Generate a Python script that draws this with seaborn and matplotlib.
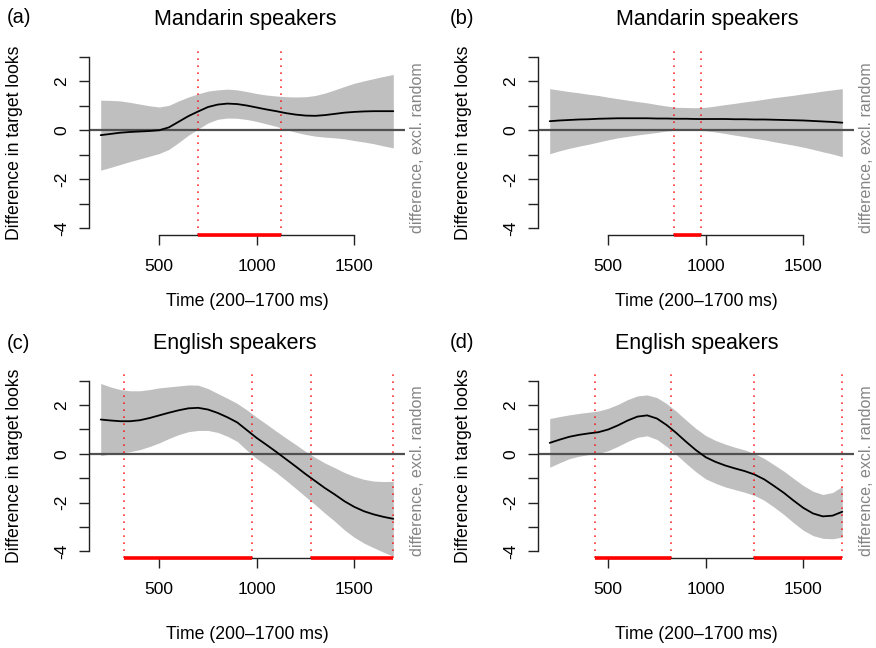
import numpy as np
import pandas as pd
import matplotlib
matplotlib.use("Agg")
import matplotlib.pyplot as plt
import seaborn as sns

# ---------------- data ----------------
time_ms = [200, 250, 300, 350, 400, 450, 500, 550, 600, 650, 700, 750, 800, 850, 900, 950,
           1000, 1050, 1100, 1150, 1200, 1250, 1300, 1350, 1400, 1450, 1500, 1550, 1600, 1650, 1700]

fit_a = [-0.20, -0.15, -0.10, -0.07, -0.05, -0.03, 0.00, 0.12, 0.35, 0.58, 0.77, 0.95, 1.05, 1.09, 1.07, 1.01,
         0.93, 0.85, 0.78, 0.70, 0.64, 0.60, 0.59, 0.62, 0.67, 0.72, 0.75, 0.77, 0.78, 0.78, 0.78]
ci_a = [1.43, 1.37, 1.30, 1.21, 1.12, 1.03, 0.95, 0.90, 0.85, 0.78, 0.72, 0.65, 0.60, 0.59, 0.58, 0.57,
        0.57, 0.59, 0.62, 0.67, 0.72, 0.77, 0.83, 0.90, 0.98, 1.07, 1.17, 1.25, 1.33, 1.42, 1.50]

fit_b = [0.37, 0.40, 0.42, 0.44, 0.45, 0.47, 0.48, 0.49, 0.49, 0.49, 0.49, 0.48, 0.48, 0.47, 0.47, 0.46,
         0.46, 0.46, 0.46, 0.45, 0.45, 0.44, 0.44, 0.43, 0.42, 0.41, 0.40, 0.38, 0.36, 0.34, 0.31]
ci_b = [1.33, 1.24, 1.16, 1.09, 1.02, 0.95, 0.87, 0.80, 0.74, 0.68, 0.63, 0.57, 0.51, 0.47, 0.46, 0.46,
        0.48, 0.53, 0.59, 0.65, 0.71, 0.77, 0.83, 0.90, 0.96, 1.02, 1.09, 1.16, 1.24, 1.31, 1.39]

fit_c = [1.41, 1.37, 1.34, 1.34, 1.38, 1.47, 1.58, 1.69, 1.79, 1.87, 1.89, 1.82, 1.68, 1.50, 1.29, 0.97,
         0.65, 0.37, 0.08, -0.22, -0.52, -0.83, -1.12, -1.41, -1.67, -1.95, -2.18, -2.36, -2.49, -2.59, -2.67]
ci_c = [1.48, 1.38, 1.30, 1.25, 1.21, 1.17, 1.13, 1.06, 1.00, 0.96, 0.93, 0.86, 0.80, 0.78, 0.78, 0.83,
        0.85, 0.85, 0.85, 0.87, 0.90, 0.93, 0.97, 1.03, 1.10, 1.18, 1.25, 1.31, 1.37, 1.45, 1.54]

fit_d = [0.45, 0.58, 0.70, 0.78, 0.84, 0.89, 1.00, 1.17, 1.37, 1.53, 1.58, 1.45, 1.18, 0.85, 0.49, 0.15,
         -0.14, -0.33, -0.48, -0.60, -0.71, -0.85, -1.05, -1.32, -1.60, -1.92, -2.22, -2.45, -2.57, -2.54, -2.38]
ci_d = [1.00, 0.95, 0.90, 0.88, 0.87, 0.87, 0.87, 0.86, 0.86, 0.85, 0.84, 0.86, 0.88, 0.89, 0.89, 0.89,
        0.89, 0.88, 0.88, 0.87, 0.87, 0.86, 0.86, 0.87, 0.89, 0.91, 0.92, 0.91, 0.90, 0.95, 1.04]

sig_a = [(700, 1125)]
sig_b = [(838, 974)]
sig_c = [(321, 974), (1278, 1700)]
sig_d = [(430, 824), (1247, 1700)]

titles = ["Mandarin speakers", "Mandarin speakers", "English speakers", "English speakers"]
panel_labels = ["(a)", "(b)", "(c)", "(d)"]
y_ticks = [-4, -3, -2, -1, 0, 1, 2, 3]
y_tick_labels = ["-4", "", "-2", "", "0", "", "2", ""]
x_ticks = [500, 1000, 1500]
x_tick_labels = ["500", "1000", "1500"]
ylabel = "Difference in target looks"
xlabel = "Time (200\u20131700 ms)"
side_text = "difference, excl. random"

# ---------------- style ----------------
sns.set_style("ticks")
plt.rcParams["font.family"] = ["Liberation Sans", "DejaVu Sans"]
plt.rcParams["text.color"] = "black"
plt.rcParams["xtick.color"] = "black"
plt.rcParams["ytick.color"] = "black"
plt.rcParams["axes.labelcolor"] = "black"

W, H = 876, 648
fig = plt.figure(figsize=(W / 100, H / 100), dpi=100)

# axes boxes in pixels: left, right, top, bottom
boxes = [(89, 405, 50, 235), (538, 854, 50, 235),
         (89, 405, 374, 558), (538, 854, 374, 558)]
title_x = [0.494, 0.535, 0.462, 0.503]
xlabel_y = [-0.362, -0.362, -0.418, -0.418]
label_pos = [(7, 17.5), (450, 18.3), (7, 343.3), (450, 342.5)]

fits = [fit_a, fit_b, fit_c, fit_d]
cis = [ci_a, ci_b, ci_c, ci_d]
sigs = [sig_a, sig_b, sig_c, sig_d]

XLIM = (140, 1760)
YLIM = (-4.28, 3.28)

for i in range(4):
    l, r, t, b = boxes[i]
    ax = fig.add_axes([l / W, 1 - b / H, (r - l) / W, (b - t) / H])
    df = pd.DataFrame({"time": time_ms, "fit": fits[i], "ci": cis[i]})
    df["lo"] = df["fit"] - df["ci"]
    df["hi"] = df["fit"] + df["ci"]

    ax.fill_between(df["time"], df["lo"], df["hi"], color="#BFBFBF", lw=0, zorder=1)
    ax.axhline(0, color="#505050", lw=1.6, zorder=2)
    sns.lineplot(data=df, x="time", y="fit", color="black", lw=1.3, ax=ax, zorder=3)

    for (s, e) in sigs[i]:
        for v in (s, e):
            ax.axvline(v, color="red", lw=1.2, ls=(0, (1, 3.2)), alpha=0.8, zorder=4)
        ax.plot([s, e], [YLIM[0], YLIM[0]], color="red", lw=2.6, solid_capstyle="butt",
                clip_on=False, zorder=6)

    ax.set_xlim(*XLIM)
    ax.set_ylim(*YLIM)
    for sp in ("top", "right"):
        ax.spines[sp].set_visible(False)
    ax.spines["left"].set_bounds(-4, 3)
    ax.spines["bottom"].set_bounds(500, 1500)
    for sp in ("left", "bottom"):
        ax.spines[sp].set_linewidth(1.0)
        ax.spines[sp].set_color("#222222")
        ax.spines[sp].set_zorder(5)

    ax.set_yticks(y_ticks)
    ax.set_yticklabels(y_tick_labels, rotation=90, va="center")
    ax.set_xticks(x_ticks)
    ax.set_xticklabels(x_tick_labels)
    ax.tick_params(axis="both", direction="out", length=7.2, width=1.0, color="#222222",
                   labelsize=12.5, labelcolor="black")
    ax.tick_params(axis="y", pad=7)
    ax.tick_params(axis="x", pad=10)
    ax.set_xlabel("")
    ax.set_ylabel("")

    ax.text(title_x[i], 1.135, titles[i], transform=ax.transAxes, ha="center",
            va="baseline", fontsize=15.5, color="black")
    ax.text(0.5, xlabel_y[i], xlabel, transform=ax.transAxes, ha="center",
            va="center", fontsize=12.7, color="black")
    ax.text(-0.235, 0.5, ylabel, transform=ax.transAxes, ha="center", va="center",
            rotation=90, fontsize=12.7, color="black")
    ax.text(1.04, 0.01, side_text, transform=ax.transAxes, ha="center", va="bottom",
            rotation=90, fontsize=11.5, color="#858585")

    lx, ly = label_pos[i]
    fig.text(lx / W, 1 - ly / H, panel_labels[i], ha="left", va="center", fontsize=14.5,
             color="black")

fig.savefig("out.png", dpi=100)
